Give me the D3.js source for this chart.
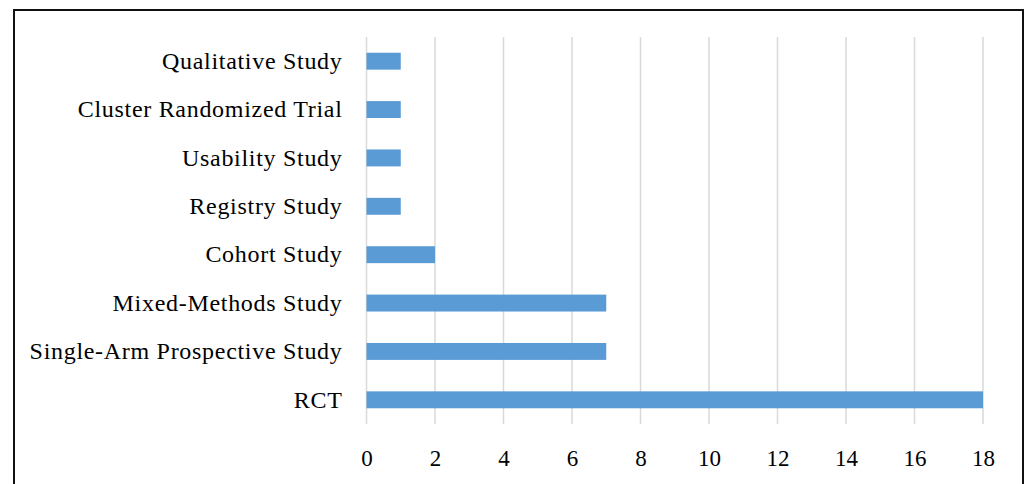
<!DOCTYPE html>
<html>
<head>
<meta charset="utf-8">
<script src="https://cdn.jsdelivr.net/npm/d3@7"></script>
<style>
  html, body { margin: 0; padding: 0; background: #fff; }
  svg { display: block; }
  text { font-family: "Liberation Serif", "DejaVu Serif", serif; fill: #000; }
</style>
</head>
<body>
<svg id="chart" width="1025" height="484"></svg>
<script>
// Study designs (top to bottom) and the number of studies of each type
const categories = [
  "Qualitative Study",
  "Cluster Randomized Trial",
  "Usability Study",
  "Registry Study",
  "Cohort Study",
  "Mixed-Methods Study",
  "Single-Arm Prospective Study",
  "RCT"
];
const counts = [1, 1, 1, 1, 2, 7, 7, 18];
const xTicks = [0, 2, 4, 6, 8, 10, 12, 14, 16, 18];

const svg = d3.select("#chart");
const plot = { left: 366.5, right: 983, top: 37, bottom: 424 };

// Outer frame
svg.append("rect")
  .attr("x", 14).attr("y", 10)
  .attr("width", 1009).attr("height", 500)
  .attr("fill", "none")
  .attr("stroke", "#111")
  .attr("stroke-width", 2);

const x = d3.scaleLinear().domain([0, 18]).range([plot.left, plot.right]);
const y = d3.scaleBand().domain(categories).range([plot.top, plot.bottom]).paddingInner(0.65).paddingOuter(0.325);

// Vertical gridlines
svg.append("g")
  .selectAll("line")
  .data(xTicks)
  .join("line")
  .attr("x1", d => x(d)).attr("x2", d => x(d))
  .attr("y1", plot.top).attr("y2", plot.bottom)
  .attr("stroke", "#d9d9d9")
  .attr("stroke-width", 1.5);

// Bars
svg.append("g")
  .selectAll("rect")
  .data(categories.map((c, i) => ({ c, v: counts[i] })))
  .join("rect")
  .attr("x", x(0))
  .attr("y", d => y(d.c))
  .attr("width", d => x(d.v) - x(0))
  .attr("height", y.bandwidth())
  .attr("fill", "#5b9bd5");

// Category axis (labels only)
const yAxis = d3.axisLeft(y).tickSize(0).tickPadding(24);
const gy = svg.append("g").attr("transform", `translate(${plot.left},0)`).call(yAxis);
gy.select(".domain").remove();
gy.selectAll("text")
  .attr("font-size", 24)
  .attr("letter-spacing", 0.7)
  .attr("font-family", "Liberation Serif, DejaVu Serif, serif")
  .attr("fill", "#000");

// Value axis (labels only)
const xAxis = d3.axisBottom(x).tickValues(xTicks).tickSize(0).tickPadding(0).tickFormat(d3.format("d"));
const gx = svg.append("g").attr("transform", `translate(0,${plot.bottom + 26})`).call(xAxis);
gx.select(".domain").remove();
gx.selectAll("text")
  .attr("font-size", 23)
  .attr("font-family", "Liberation Serif, DejaVu Serif, serif")
  .attr("fill", "#000");
</script>
</body>
</html>
